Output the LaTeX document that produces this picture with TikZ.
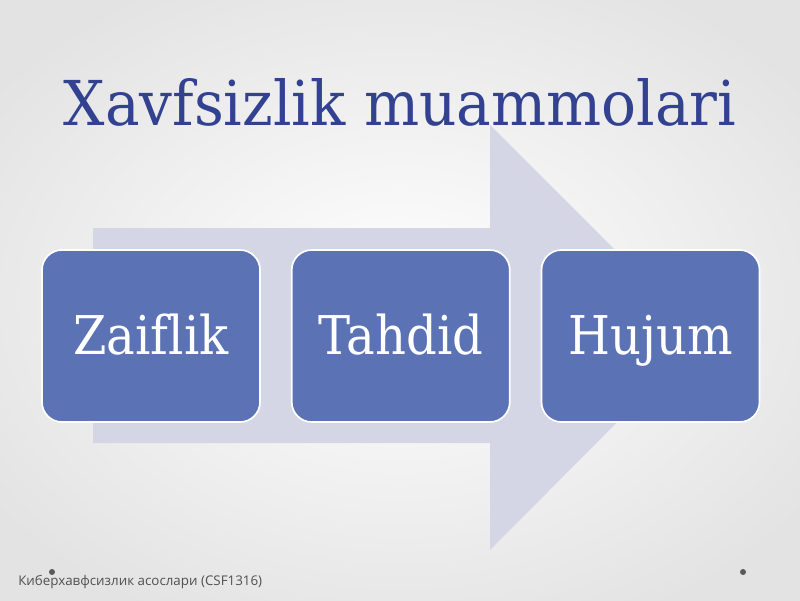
\documentclass[tikz,border=0pt]{standalone}
\usepackage{fontspec}
\setmainfont{DejaVu Serif}
\newfontfamily\titlefont[FakeStretch=0.94]{DejaVu Serif}
\newfontfamily\boxfont[FakeStretch=0.9,Ligatures=NoCommon]{DejaVu Serif}
\newfontfamily\footfont{Open Sans}
\usetikzlibrary{positioning,shadings}

\definecolor{titleblue}{RGB}{50,66,145}
\definecolor{boxblue}{RGB}{91,114,181}
\definecolor{arrowgray}{RGB}{212,214,229}
\definecolor{footgray}{RGB}{80,80,80}

\begin{document}
\begin{tikzpicture}[
  x=0.025cm, y=-0.025cm,
  stepbox/.style={rectangle, rounded corners=0.5cm, draw=white, line width=1.2pt,
    fill=boxblue, text=white, minimum width=5.45cm, minimum height=4.3cm,
    text height=34pt, text depth=8pt,
    font=\boxfont\fontsize{38}{40}\selectfont},
  footnode/.style={font=\footfont\fontsize{9.5}{11}\selectfont, text=footgray, inner sep=0pt, anchor=base west},
  ]

  % background
  \useasboundingbox (0,0) rectangle (800,600);
  \begin{scope}
    \clip (0,0) rectangle (800,600);
    \shade[inner color=white, outer color=gray!22] (-100,-60) rectangle (900,660);
  \end{scope}

  % big arrow behind the steps
  \fill[arrowgray] (93,228) -- (490,228) -- (490,125) -- (702,337)
    -- (490,550) -- (490,443) -- (93,443) -- cycle;

  % title
  \node (title) [text=titleblue, font=\titlefont\fontsize{44}{48}\selectfont] at (400,102) {Xavfsizlik muammolari};

  % steps
  \node (zaiflik) [stepbox] at (151,336) {Zaiflik};
  \node (tahdid) [stepbox, right=0.75cm of zaiflik] {Tahdid};
  \node (hujum) [stepbox, right=0.75cm of tahdid] {Hujum};

  % footer
  \node (footer) [footnode] at (18,585) {Киберхавфсизлик асослари (CSF1316)};
  \fill[gray!70!black] (52,572) circle (3);
  \fill[gray!70!black] (743,572) circle (3);

\end{tikzpicture}
\end{document}
